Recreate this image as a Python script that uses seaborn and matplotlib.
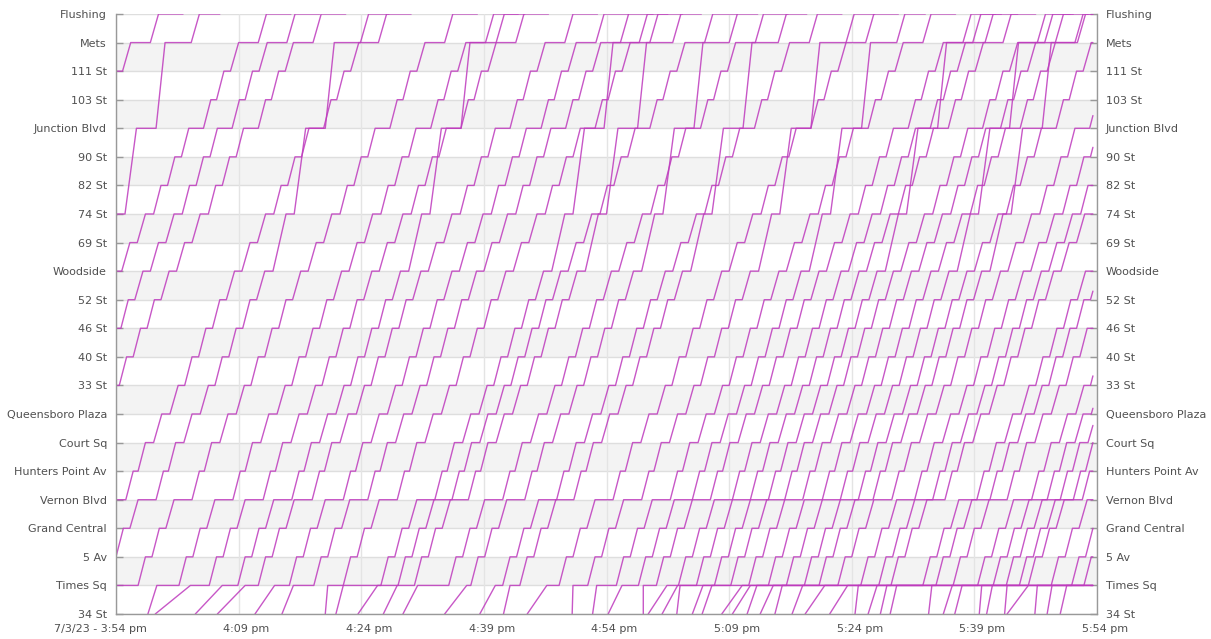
import numpy as np
import pandas as pd
import matplotlib
matplotlib.use("Agg")
import matplotlib.pyplot as plt
import seaborn as sns
from matplotlib.transforms import ScaledTranslation

# ---------------- data ----------------
stations = ["34 St", "Times Sq", "5 Av", "Grand Central", "Vernon Blvd",
            "Hunters Point Av", "Court Sq", "Queensboro Plaza", "33 St", "40 St",
            "46 St", "52 St", "Woodside", "69 St", "74 St", "82 St", "90 St",
            "Junction Blvd", "103 St", "111 St", "Mets", "Flushing"]

# minutes after 3:54 pm
x_ticks = [0, 15, 30, 45, 60, 75, 90, 105, 120]
x_labels = ["7/3/23 - 3:54 pm", "4:09 pm", "4:24 pm", "4:39 pm", "4:54 pm",
            "5:09 pm", "5:24 pm", "5:39 pm", "5:54 pm"]
data_end = 119.5

# typical running / dwell times (min)
local_run = [2.0, 0.9, 0.9, 1.0, 0.9, 0.9, 1.0, 1.0, 0.9, 0.9, 0.9, 1.0, 1.0, 1.0,
             0.9, 0.9, 0.9, 0.9, 0.9, 1.0, 1.0]
local_dwell = [0.0, 2.5, 0.8, 0.8, 2.2, 0.6, 1.0, 1.0, 0.8, 0.8, 0.8, 0.8, 0.9, 0.9,
               1.0, 0.8, 0.8, 1.8, 0.7, 0.8, 2.4, 3.0]
express_stops = [0, 1, 2, 3, 4, 5, 6, 7, 8, 9, 10, 11, 12, 14, 17, 20, 21]
express_run = [2.0, 0.9, 0.9, 1.0, 0.9, 0.9, 1.0, 1.0, 0.9, 0.9, 0.9, 1.0,
               1.6, 1.4, 1.1, 1.0]
express_dwell = [0.0, 2.5, 0.8, 0.8, 2.2, 0.6, 1.0, 1.0, 0.8, 0.8, 0.8, 0.8,
                 1.0, 1.0, 2.4, 3.2, 2.5]

# per trip: departure from Vernon Blvd, departure from 34 St, arrival at Times Sq
# (min after 3:54; nan = before the window) and service (L local / E express)
trip_vernon_dep = [-26.7, -15.8, -13.5, -10.0, -6.8, 1.2, 4.9, 9.3, 14.3, 18.0,
                   21.5, 24.0, 27.8, 30.8, 34.4, 39.0, 41.1, 43.1, 47.3, 50.0,
                   53.9, 56.0, 60.8, 64.3, 67.8, 70.5, 72.7, 75.4, 77.6, 79.8,
                   81.8, 84.0, 86.4, 88.6, 90.8, 92.6, 94.9, 97.7, 99.9, 101.4,
                   105.3, 106.9, 109.0, 112.0, 113.9, 115.5, 117.1, 118.2,
                   121.0, 123.5, 125.0, 127.0, 129.0, 131.0]
trip_34st_dep = [np.nan] * 7 + [-2.6,
                 3.9, 4.8, 9.7, 12.4, 17.0, 20.3, 25.6, 26.9, 29.6, 32.7,
                 35.1, 40.2, 44.5, 47.4, 50.3, 55.8, 58.3, 60.2, 64.5, 65.1,
                 66.8, 68.6, 70.5, 71.7, 74.1, 75.4, 77.2, 78.8, 80.6, 82.7,
                 84.3, 87.3, 90.4, 92.0, 93.5, 94.7, 99.4, 101.2, 102.6, 105.6,
                 106.5, 108.7, 109.0, 112.4, 113.9, 115.5]
trip_ts_arr = [np.nan] * 7 + [-0.7,
               5.0, 9.1, 13.0, 15.8, 19.4, 21.7, 25.9, 27.8, 32.0, 34.4,
               36.9, 42.9, 46.4, 48.2, 52.7, 55.9, 58.8, 61.9, 64.5, 67.4,
               68.7, 69.0, 71.8, 72.9, 76.6, 77.6, 78.4, 80.4, 81.5, 84.0,
               86.7, 89.5, 90.8, 93.1, 94.3, 95.5, 99.8, 102.3, 103.5, 105.9,
               107.2, 109.0, 111.6, 112.7, 114.5, 116.3]
trip_service = ["L", "E", "L", "L", "L", "L", "E", "L", "L", "L",
                "E", "L", "L", "L", "L", "E", "L", "E", "L", "E",
                "L", "E", "L", "E", "L", "E", "L", "L", "L", "E",
                "L", "L", "L", "E", "L", "E", "L", "L", "L", "L",
                "L", "L", "L", "L", "L", "L", "L", "L",
                "L", "L", "L", "L", "L", "L"]


def profile(stops, run, dwell):
    t, pts = 0.0, []
    for k, s in enumerate(stops):
        pts.append((t, s))
        t += dwell[k]
        pts.append((t, s))
        if k < len(run):
            t += run[k]
    times = np.array([p[0] for p in pts])
    pos = np.array([p[1] for p in pts], dtype=float)
    ref = times[2 * stops.index(4) + 1]       # departure from Vernon Blvd
    return times - ref, pos


profiles = {
    "L": profile(list(range(22)), local_run, local_dwell),
    "E": profile(express_stops, express_run, express_dwell),
}

rows = []
for i, svc in enumerate(trip_service):
    t, p = profiles[svc]
    t = t + trip_vernon_dep[i]
    t = t.copy()
    if not np.isnan(trip_34st_dep[i]):
        t[0] = t[1] = trip_34st_dep[i]
        t[2] = min(trip_ts_arr[i], t[3])
    keep = t <= data_end
    tt, pp = list(t[keep]), list(p[keep])
    if (~keep).any() and keep.any():
        tt.append(data_end)
        pp.append(float(np.interp(data_end, t, p)))
    for a, b in zip(tt, pp):
        rows.append({"trip": i, "time": a, "pos": b})
df = pd.DataFrame(rows)

# ---------------- figure ----------------
sns.set_style("white")
plt.rcParams["font.family"] = ["DejaVu Sans"]
fig = plt.figure(figsize=(12.11, 6.39), dpi=100)
ax = fig.add_axes([116 / 1211, 1 - 614 / 639, (1097 - 116) / 1211, 600 / 639])

n = len(stations)
for i in range(n - 1):
    if i % 2 == 1:
        ax.axhspan(i, i + 1, color="#f3f3f3", lw=0, zorder=0)
for i in range(n):
    ax.axhline(i, color="#dedede", lw=1.0, zorder=0.5)
for xt in x_ticks:
    ax.axvline(xt, color="#e4e4e4", lw=1.0, zorder=0.5)

sns.lineplot(data=df, x="time", y="pos", units="trip", estimator=None, sort=False,
             color="#be3abd", lw=1.0, alpha=0.85, ax=ax, legend=False, zorder=2)

ax.set_xlim(0, 120)
ax.set_ylim(0, n - 1)
ax.set_xlabel("")
ax.set_ylabel("")
ax.set_yticks(range(n))
ax.set_yticklabels(stations)
ax.set_xticks(x_ticks)
ax.tick_params(axis="y", which="both", left=True, right=True, labelleft=True,
               labelright=True, direction="in", length=5, width=1, color="#999999",
               labelsize=8, labelcolor="#505050", pad=6.5)
ax.tick_params(axis="x", length=0, labelsize=8, labelcolor="#505050", pad=7)
ax.set_xticklabels(x_labels, ha="right")
off = ScaledTranslation(31 / 100, 0, fig.dpi_scale_trans)
for lab in ax.xaxis.get_majorticklabels():
    lab.set_transform(lab.get_transform() + off)
for side in ["left", "right", "bottom"]:
    ax.spines[side].set_color("#999999")
    ax.spines[side].set_linewidth(1.0)
ax.spines["top"].set_visible(False)

fig.savefig("out.png", dpi=100)
